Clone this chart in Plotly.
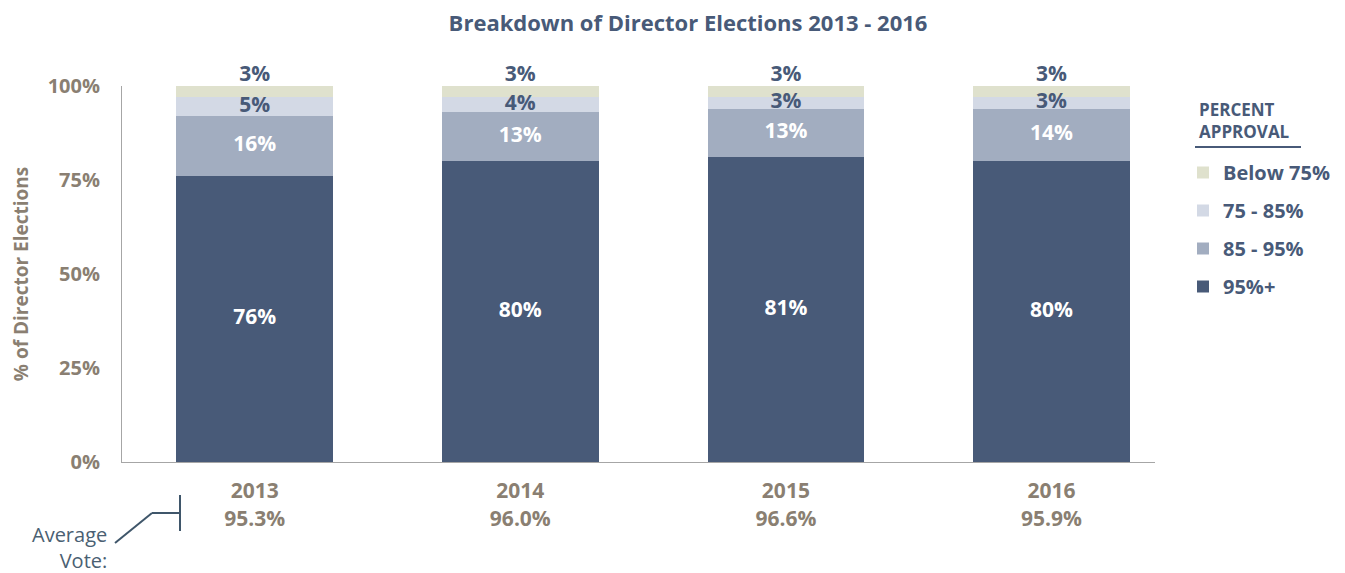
import plotly.graph_objects as go

years = ['2013', '2014', '2015', '2016']
avg_vote = ['95.3%', '96.0%', '96.6%', '95.9%']

pct_95_plus = [76, 80, 81, 80]
pct_85_95 = [16, 13, 13, 14]
pct_75_85 = [5, 4, 3, 3]
pct_below_75 = [3, 3, 3, 3]

series = [
    ('95%+', pct_95_plus, '#485a78', 'white'),
    ('85 - 95%', pct_85_95, '#a2adc0', 'white'),
    ('75 - 85%', pct_75_85, '#d3d9e5', '#485a78'),
    ('Below 75%', pct_below_75, '#dfe1cd', '#485a78'),
]

FONT = 'Open Sans'
TAUPE = '#8a7f72'
NAVY = '#485a78'

# 页面 body 默认有 8px 边距，这里按屏幕像素换算到 paper 坐标
OFF = 8
L, T, R, B = 122, 86, 1155, 462
PW, PH = R - L, B - T


def px(x):
    return (x - L) / PW


def py(y):
    return (B - y) / PH


cat_labels = [f'<b>{y}</b><br><b>{v}</b>' for y, v in zip(years, avg_vote)]

fig = go.Figure()

base = [0] * len(years)
for i, (name, vals, color, txtcolor) in enumerate(series):
    fig.add_trace(go.Bar(
        x=cat_labels, y=vals, name=f'<b>{name}</b>',
        marker=dict(color=color, line=dict(width=0)),
        width=0.59, legendgroup=name, legendrank=len(series) - i,
    ))
    # 数据标签
    if name == 'Below 75%':
        ys = [b + v for b, v in zip(base, vals)]
        pos = 'top center'
    else:
        ys = [b + v / 2 for b, v in zip(base, vals)]
        pos = 'middle center'
    fig.add_trace(go.Scatter(
        x=cat_labels, y=ys, mode='text',
        text=[f'<b>{v}%</b>' for v in vals], textposition=pos,
        textfont=dict(family=FONT, size=21, color=txtcolor),
        showlegend=False, hoverinfo='skip', cliponaxis=False,
    ))
    base = [b + v for b, v in zip(base, vals)]

fig.update_layout(
    width=1345 - OFF, height=573 - OFF,
    margin=dict(l=L - OFF, r=1345 - R, t=T - OFF, b=573 - B, autoexpand=False),
    barmode='stack',
    plot_bgcolor='white', paper_bgcolor='white',
    title=dict(text='<b>Breakdown of Director Elections 2013 - 2016</b>',
               x=(688 - OFF) / (1345 - OFF), xanchor='center',
               y=1 - (23 - OFF) / (573 - OFF), yanchor='middle',
               font=dict(family=FONT, size=22, color=NAVY)),
    legend=dict(x=px(1183), xanchor='left', y=py(153), yanchor='top',
                traceorder='grouped', tracegroupgap=9,
                font=dict(family=FONT, size=20, color=NAVY),
                bgcolor='rgba(0,0,0,0)'),
    showlegend=True,
)

fig.update_xaxes(
    range=[-0.5, 3.39], showline=True, linecolor='#a6a6a6', linewidth=1,
    ticks='', automargin=False, ticklabelstandoff=10,
    tickfont=dict(family=FONT, size=21, color=TAUPE),
)
fig.update_yaxes(
    range=[0, 100], tickvals=[0, 25, 50, 75, 100],
    ticktext=['<b>0%</b>', '<b>25%</b>', '<b>50%</b>', '<b>75%</b>', '<b>100%</b>'],
    showgrid=False, zeroline=False, showline=True, linecolor='#a6a6a6', linewidth=1,
    ticks='', ticklabelstandoff=17, automargin=False,
    tickfont=dict(family=FONT, size=20, color=TAUPE),
    title=dict(text='<b>% of Director Elections</b>', standoff=16,
               font=dict(family=FONT, size=19, color=TAUPE)),
)

# 图例标题
fig.add_annotation(text='<b>PERCENT<br>APPROVAL</b>', xref='paper', yref='paper',
                   x=px(1197), y=py(96), xanchor='left', yanchor='top',
                   align='left', showarrow=False,
                   font=dict(family=FONT, size=17, color=NAVY))
fig.add_shape(type='line', xref='paper', yref='paper',
              x0=px(1195), x1=px(1301), y0=py(147), y1=py(147),
              line=dict(color=NAVY, width=2))

# Average Vote 标注
fig.add_annotation(text='Average<br>Vote:', xref='paper', yref='paper',
                   x=px(109), y=py(547), xanchor='right', yanchor='middle',
                   align='right', showarrow=False,
                   font=dict(family=FONT, size=20, color='#4a6072'))
for x0, y0, x1, y1 in [(115, 543, 152, 513), (152, 513, 180, 513), (180, 495, 180, 531)]:
    fig.add_shape(type='line', xref='paper', yref='paper',
                  x0=px(x0), x1=px(x1), y0=py(y0), y1=py(y1),
                  line=dict(color='#3f566a', width=2))

fig.write_html('out.html')
